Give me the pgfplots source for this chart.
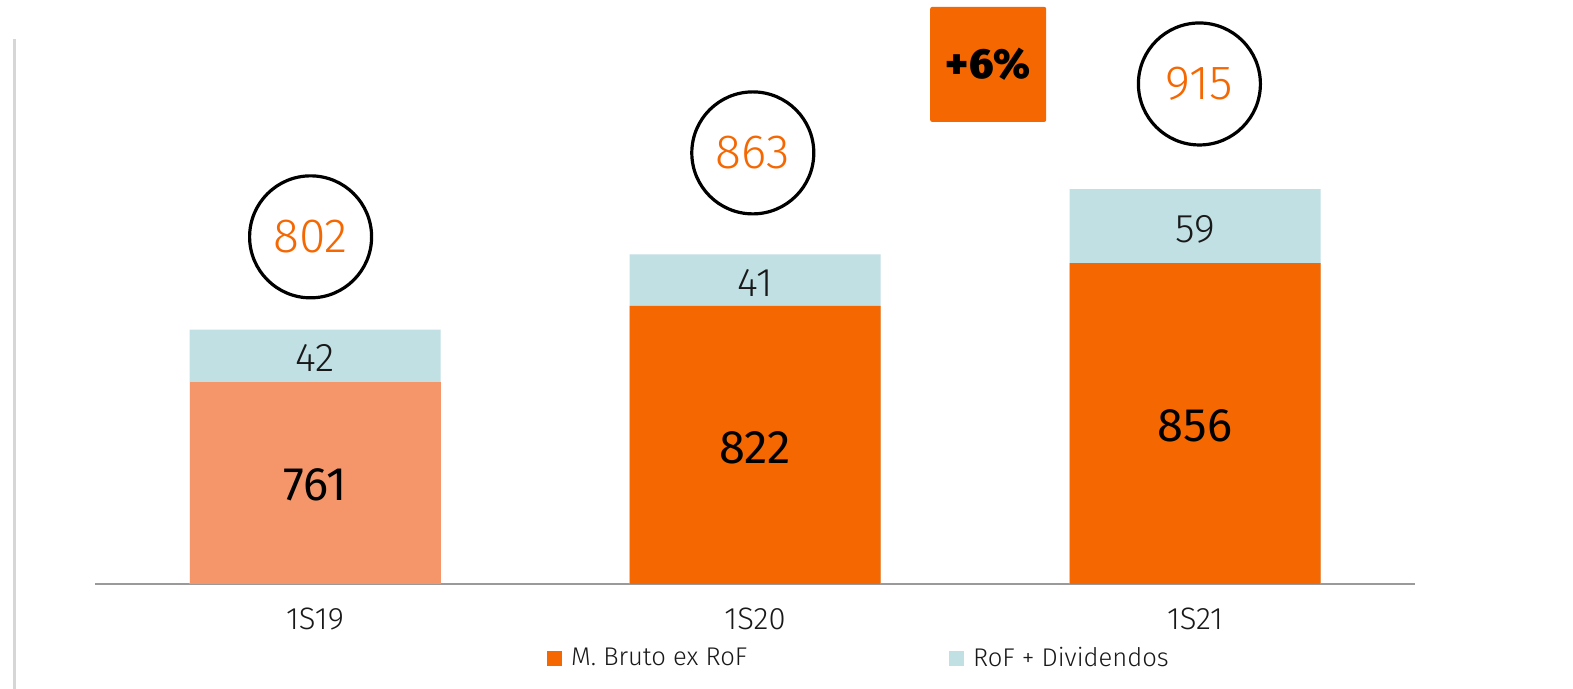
\documentclass[border=0pt]{standalone}
\usepackage{fontspec}
\setmainfont{Fira Sans}[UprightFont=* Light, BoldFont=* Black]
\newfontfamily\firareg{Fira Sans}
\usepackage{pgfplots}
\pgfplotsset{compat=1.18}
\definecolor{rorange}{HTML}{F56700}
\definecolor{rsalmon}{HTML}{F4956A}
\definecolor{rblue}{HTML}{C1E0E4}
\definecolor{raxis}{HTML}{9A9A9A}
\begin{document}
\begin{tikzpicture}
\useasboundingbox (0,0) rectangle (786.5pt,344.5pt);
\fill[white] (0,0) rectangle (786.5pt,344.5pt);
\draw[black!16, line width=1.5pt] (7pt,0) -- (7pt,325pt);
\begin{axis}[
  at={(47.5pt,52.5pt)}, anchor=south west,
  scale only axis, width=660pt, height=292pt,
  xmin=-0.5, xmax=2.5, ymin=600, ymax=1066,
  axis x line=bottom, axis y line=none,
  x axis line style={-, draw=raxis, line width=1.1pt},
  xtick={0,1,2}, xticklabels={1S19,1S20,1S21},
  major tick length=0pt,
  xticklabel style={anchor=base, yshift=-23pt, font=\fontsize{15.5}{18}\selectfont, text=black!90},
  ytick=\empty,
  clip mode=individual,
  ybar, bar width=125.5pt, bar shift=0pt,
  legend columns=2,
  legend style={draw=none, fill=none, inner sep=0pt, at={(rel axis cs:0.3424,-0.127)}, anchor=west,
    font=\fontsize{12.8}{15}\selectfont, text=black!90,
    /tikz/every even column/.append style={column sep=99pt}},
  legend cell align=left,
]
\addlegendimage{legend image code/.code={\fill[rorange] (0pt,-3.5pt) rectangle (7pt,3.5pt); \path (9.5pt,0);}}
\addlegendentry{M. Bruto ex RoF}
\addlegendimage{legend image code/.code={\fill[rblue] (0pt,-3.5pt) rectangle (7pt,3.5pt); \path (9.5pt,0);}}
\addlegendentry{RoF + Dividendos}
% totals (bottom + RoF + Dividendos)
\addplot[forget plot, fill=rblue, draw=none] coordinates {(0,803) (1,863) (2,915)};
% M. Bruto ex RoF
\addplot[forget plot, fill=rsalmon, draw=none] coordinates {(0,761)};
\addplot[forget plot, fill=rorange, draw=none] coordinates {(1,822) (2,856)};
% labels
\node[font=\firareg\fontsize{23.5}{26}\selectfont] at (axis cs:0,679) {761};
\node[font=\firareg\fontsize{23.5}{26}\selectfont] at (axis cs:1,709) {822};
\node[font=\firareg\fontsize{23.5}{26}\selectfont] at (axis cs:2,726) {856};
\node[font=\fontsize{20}{23}\selectfont, text=black!90] at (axis cs:0,780) {42};
\node[font=\fontsize{20}{23}\selectfont, text=black!90] at (axis cs:1,840) {41};
\node[font=\fontsize{20}{23}\selectfont, text=black!90] at (axis cs:2,883) {59};
% circles
\node[circle, draw=black, line width=1.6pt, minimum size=61pt, inner sep=0pt, text=rorange, font=\fontsize{24}{27}\selectfont] at (axis cs:-0.01,877) {802};
\node[circle, draw=black, line width=1.6pt, minimum size=61pt, inner sep=0pt, text=rorange, font=\fontsize{24}{27}\selectfont] at (axis cs:0.995,944) {863};
\node[circle, draw=black, line width=1.6pt, minimum size=61pt, inner sep=0pt, text=rorange, font=\fontsize{24}{27}\selectfont] at (axis cs:2.01,999) {915};
% growth box
\node[fill=rorange, rounded corners=1pt, minimum width=58pt, minimum height=57.5pt, inner sep=0pt, font=\bfseries\fontsize{21}{24}\selectfont] at (axis cs:1.53,1014.6) {+6\%};
\end{axis}
\end{tikzpicture}
\end{document}
